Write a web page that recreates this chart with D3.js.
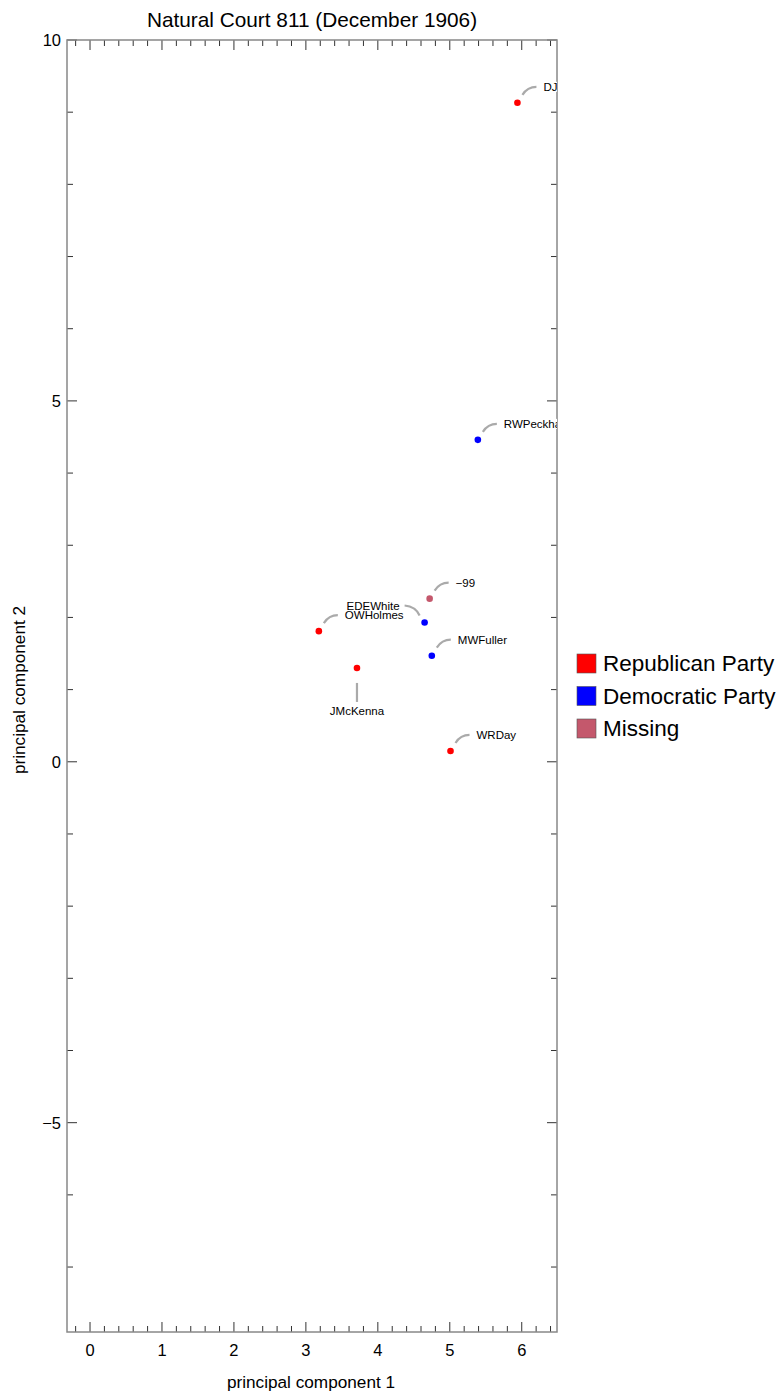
<!DOCTYPE html>
<html>
<head>
<meta charset="utf-8">
<script src="https://cdn.jsdelivr.net/npm/d3@7/dist/d3.min.js"></script>
<style>
  html, body { margin: 0; padding: 0; background: #fff; }
  svg { display: block; font-family: "Liberation Sans", Arial, sans-serif; }
</style>
</head>
<body>
<svg id="chart" width="784" height="1393"></svg>
<script>
// ---- data ----
const justices = ["DJBrewer", "RWPeckham", "\u221299", "EDEWhite", "OWHolmes", "MWFuller", "JMcKenna", "WRDay"];
const pc1 = [5.94, 5.39, 4.72, 4.65, 3.18, 4.75, 3.71, 5.01];
const pc2 = [9.13, 4.46, 2.26, 1.93, 1.81, 1.47, 1.30, 0.15];
const party = ["Republican Party", "Democratic Party", "Missing", "Democratic Party", "Republican Party", "Democratic Party", "Republican Party", "Republican Party"];
const labelDir = ["ne", "ne", "ne", "nw", "ne", "ne", "s", "ne"];
const legendItems = ["Republican Party", "Democratic Party", "Missing"];
const partyColors = ["#ff0000", "#0000ff", "#c4586c"];
const xTicks = [0, 1, 2, 3, 4, 5, 6];
const yTicks = [-5, 0, 5, 10];
const titleText = "Natural Court 811 (December 1906)";
const xTitle = "principal component 1";
const yTitle = "principal component 2";

// ---- layout ----
const svg = d3.select("#chart");
const L = 67, R = 557, T = 40, B = 1332;
const x = d3.scaleLinear().domain([-0.32, 6.49]).range([L, R]);
const y = d3.scaleLinear().domain([-7.9, 10]).range([B, T]);
const color = d3.scaleOrdinal().domain(legendItems).range(partyColors);

svg.append("text").attr("x", 312).attr("y", 27).attr("text-anchor", "middle")
  .attr("font-size", 20.8).attr("fill", "#000").text(titleText);

svg.append("defs").append("clipPath").attr("id", "clip")
  .append("rect").attr("x", L).attr("y", T).attr("width", R - L).attr("height", B - T);

// ticks
const xMinor = d3.range(-1, 33).map(i => i * 0.2).filter(v => Math.abs(v - Math.round(v)) > 1e-6);
const yMinor = d3.range(-7, 10, 1).filter(v => !yTicks.includes(v));
const tickG = svg.append("g").attr("stroke", "#333").attr("stroke-width", 1);
function addX(vals, len) {
  tickG.selectAll(null).data(vals).enter().append("line")
    .attr("x1", d => x(d)).attr("x2", d => x(d)).attr("y1", B).attr("y2", B - len);
  tickG.selectAll(null).data(vals).enter().append("line")
    .attr("x1", d => x(d)).attr("x2", d => x(d)).attr("y1", T).attr("y2", T + len);
}
function addY(vals, len) {
  tickG.selectAll(null).data(vals).enter().append("line")
    .attr("x1", L).attr("x2", L + len).attr("y1", d => y(d)).attr("y2", d => y(d));
  tickG.selectAll(null).data(vals).enter().append("line")
    .attr("x1", R).attr("x2", R - len).attr("y1", d => y(d)).attr("y2", d => y(d));
}
addX(xTicks, 10);
addX(xMinor, 6);
addY(yTicks, 10);
addY(yMinor, 6);

// frame
svg.append("rect").attr("x", L).attr("y", T).attr("width", R - L).attr("height", B - T)
  .attr("fill", "none").attr("stroke", "#888").attr("stroke-width", 1.5);

// tick labels
svg.selectAll(null).data(xTicks).enter().append("text")
  .attr("x", d => x(d)).attr("y", 1356).attr("text-anchor", "middle")
  .attr("font-size", 16.5).text(d => d);
svg.selectAll(null).data(yTicks).enter().append("text")
  .attr("x", 61).attr("y", d => y(d) + 6).attr("text-anchor", "end")
  .attr("font-size", 16.5).text(d => d < 0 ? "\u2212" + Math.abs(d) : d);

// axis titles
svg.append("text").attr("x", 311).attr("y", 1388).attr("text-anchor", "middle")
  .attr("font-size", 17.2).text(xTitle);
svg.append("text").attr("transform", "translate(25,690) rotate(-90)").attr("text-anchor", "middle")
  .attr("font-size", 17.2).text(yTitle);

// points + labels
const plot = svg.append("g").attr("clip-path", "url(#clip)");
const data = justices.map((n, i) => ({ name: n, x: pc1[i], y: pc2[i], party: party[i], dir: labelDir[i] }));

plot.selectAll("circle").data(data).enter().append("circle")
  .attr("cx", d => x(d.x)).attr("cy", d => y(d.y)).attr("r", 3.3)
  .attr("fill", d => color(d.party));

const labG = plot.append("g");
data.forEach(d => {
  const px = x(d.x), py = y(d.y);
  const g = labG.append("g");
  let path, tx, ty, anchor;
  if (d.dir === "ne") {
    path = `M${px + 5},${py - 8} Q${px + 10},${py - 16} ${px + 19},${py - 16}`;
    tx = px + 26; ty = py - 16; anchor = "start";
  } else if (d.dir === "nw") {
    path = `M${px - 5},${py - 7} Q${px - 9},${py - 16} ${px - 20},${py - 17}`;
    tx = px - 25; ty = py - 16; anchor = "end";
  } else {
    path = `M${px},${py + 15} L${px},${py + 34}`;
    tx = px; ty = py + 43; anchor = "middle";
  }
  const t = g.append("text").attr("x", tx).attr("y", ty + 4).attr("text-anchor", anchor)
    .attr("font-size", 11.5).attr("fill", "#000").text(d.name);
  const bb = t.node().getBBox();
  g.insert("rect", "text").attr("x", bb.x - 1).attr("y", bb.y + 1).attr("width", bb.width + 2).attr("height", bb.height - 2)
    .attr("fill", "#fff");
  g.insert("path", "rect").attr("d", path).attr("fill", "none").attr("stroke", "#aaa")
    .attr("stroke-width", 2.2).attr("stroke-linecap", "butt");
});

// legend
const leg = svg.append("g");
legendItems.forEach((p, i) => {
  const yy = 654 + i * 32.5;
  leg.append("rect").attr("x", 577).attr("y", yy).attr("width", 19).attr("height", 19)
    .attr("fill", color(p)).attr("stroke", "#555").attr("stroke-width", 0.6);
  leg.append("text").attr("x", 603).attr("y", yy + 17).attr("font-size", 22.5).text(p);
});
</script>
</body>
</html>
